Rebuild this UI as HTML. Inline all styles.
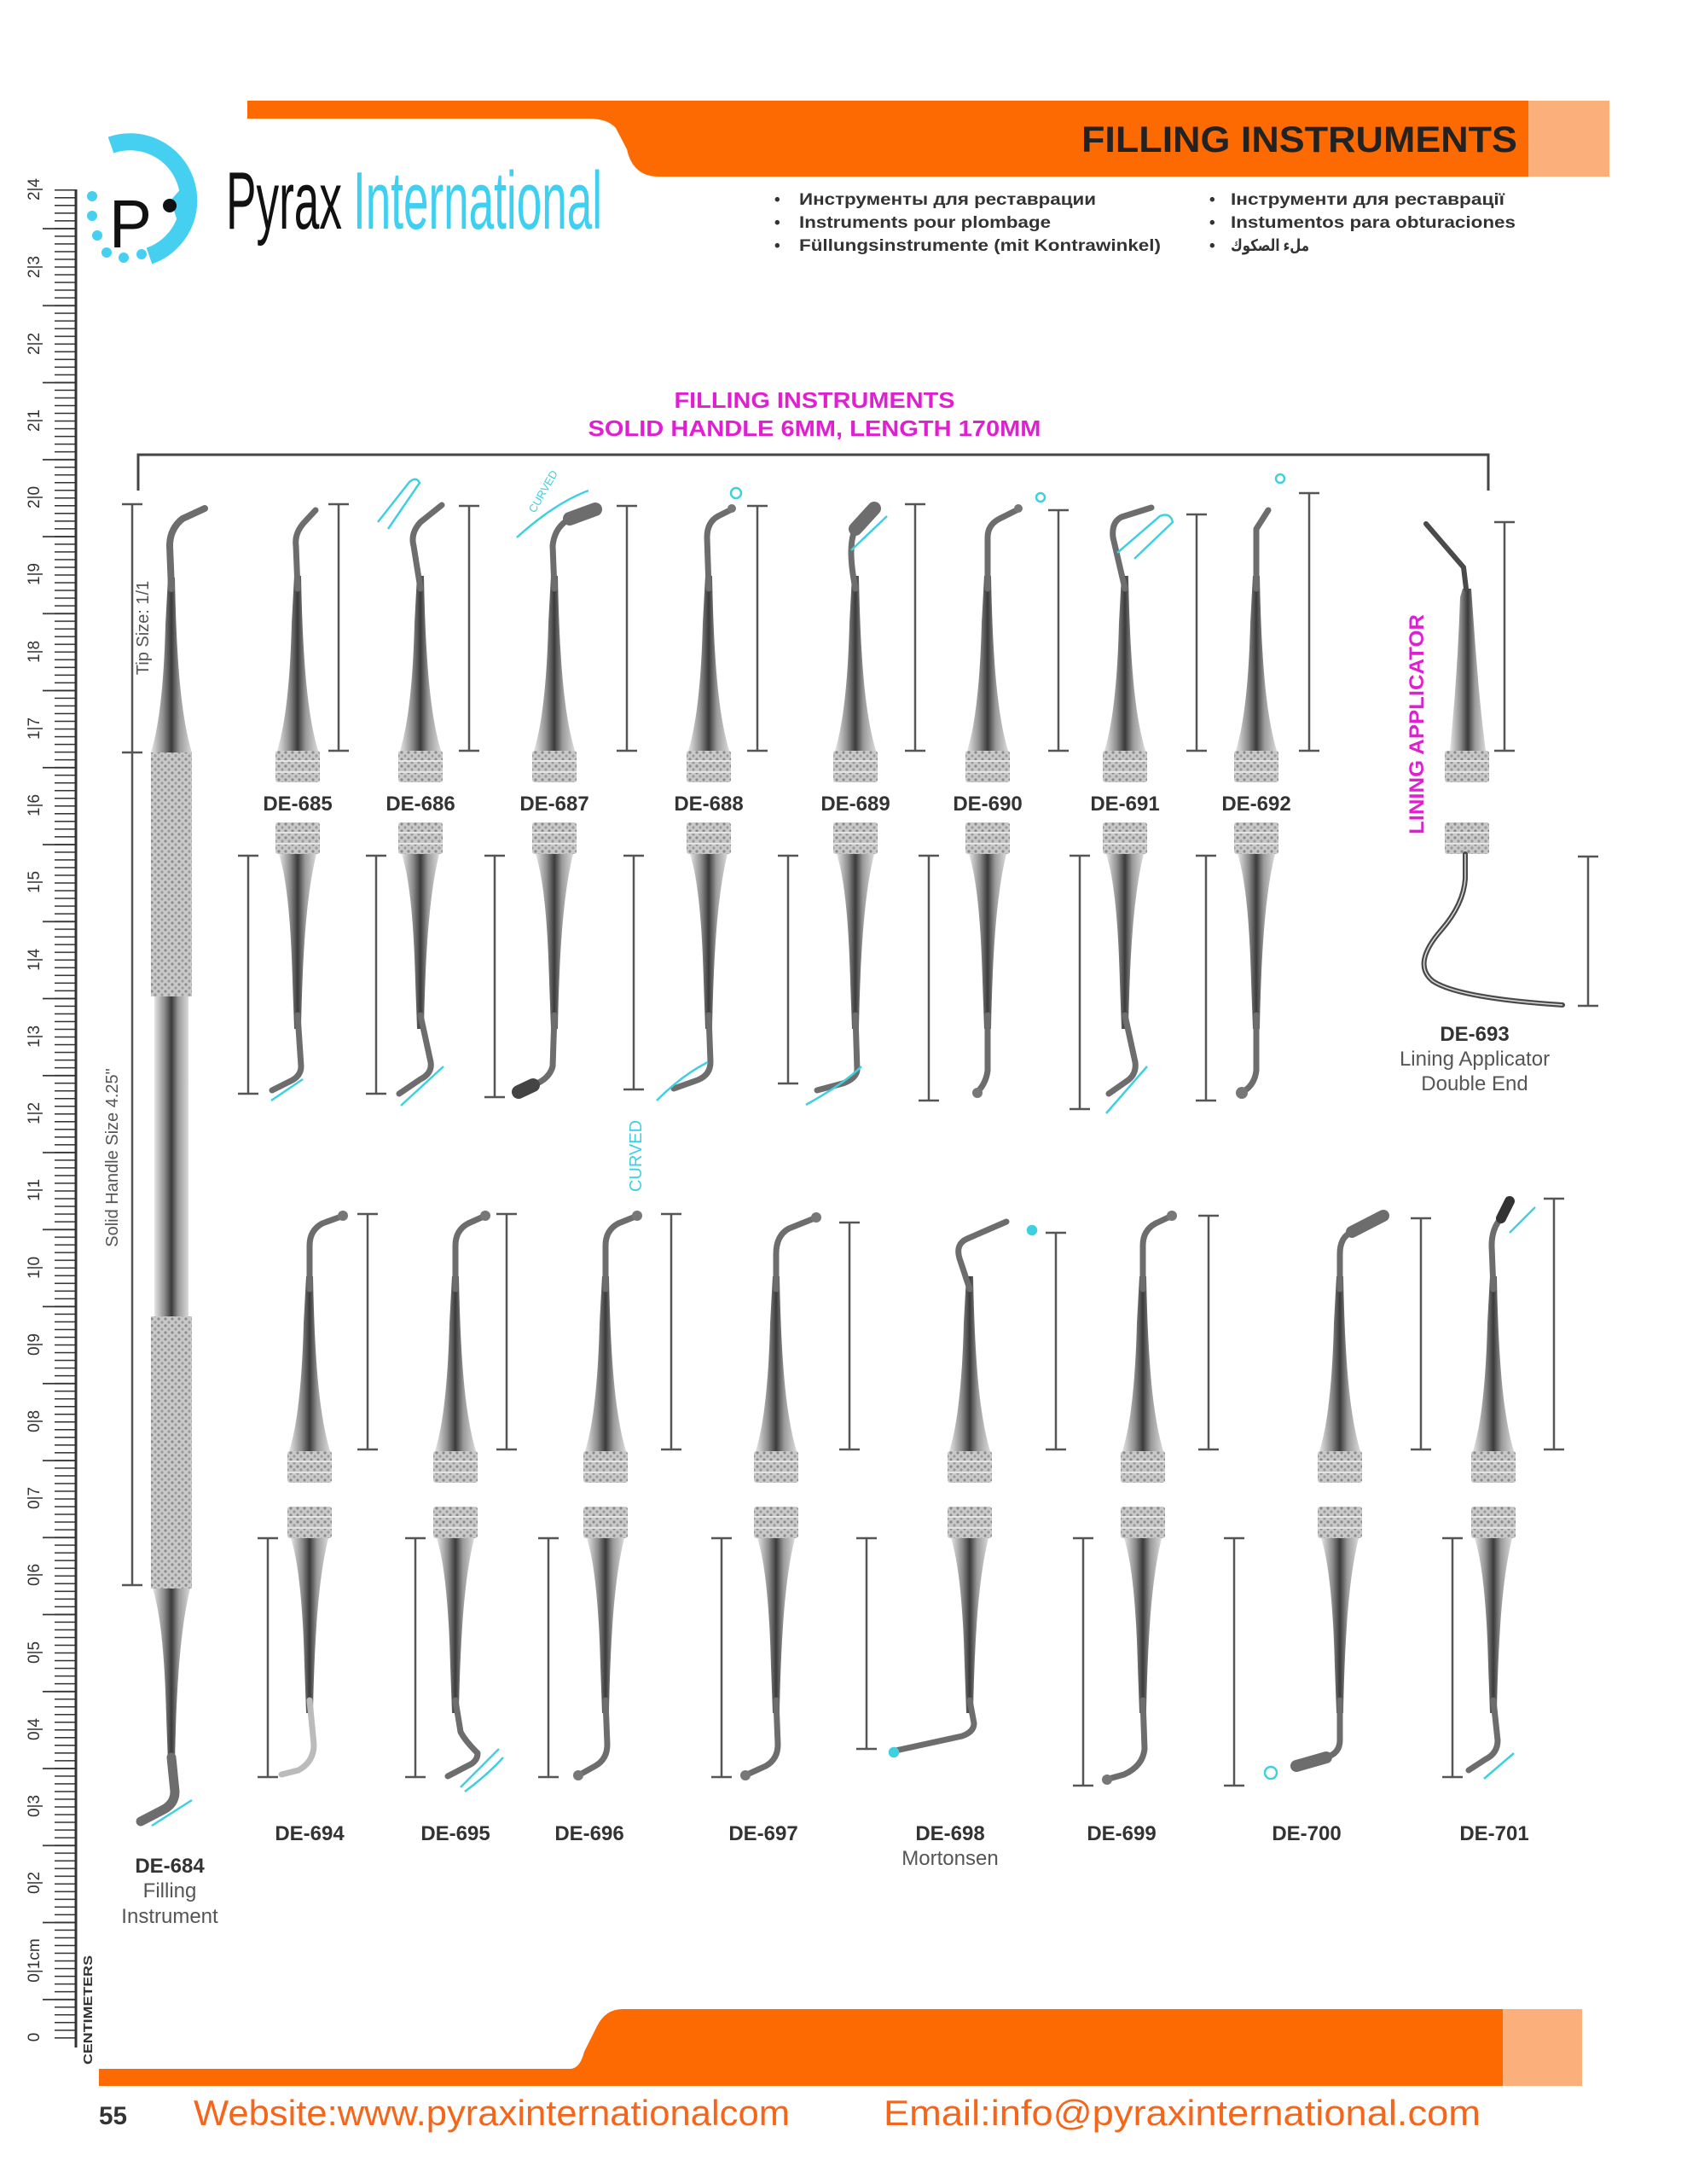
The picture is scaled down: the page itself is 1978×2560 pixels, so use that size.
<!DOCTYPE html>
<html><head><meta charset="utf-8"><style>
html,body{margin:0;padding:0;background:#fff}
svg{display:block}
text{font-family:"Liberation Sans","DejaVu Sans",sans-serif}
</style></head><body>
<svg width="1978" height="2560" viewBox="0 0 1978 2560" xmlns="http://www.w3.org/2000/svg">
<defs>
<linearGradient id="steel" x1="0" x2="1" y1="0" y2="0">
<stop offset="0" stop-color="#e6e6e6"/><stop offset="0.3" stop-color="#8c8c8c"/><stop offset="0.5" stop-color="#3a3a3a"/><stop offset="0.7" stop-color="#9a9a9a"/><stop offset="1" stop-color="#dadada"/>
</linearGradient>
<pattern id="knurl" width="8" height="8" patternUnits="userSpaceOnUse">
<rect width="8" height="8" fill="#c9c9c9"/><circle cx="2" cy="2" r="1.6" fill="#8a8a8a"/><circle cx="6" cy="6" r="1.6" fill="#9a9a9a"/>
</pattern>
<pattern id="mm" x="0" y="2388" width="40" height="9.025" patternUnits="userSpaceOnUse"><path d="M0,0.8H40" stroke="#333" stroke-width="1.6"/></pattern>
<pattern id="half" x="0" y="2342.9" width="50" height="90.25" patternUnits="userSpaceOnUse"><path d="M0,0.8H50" stroke="#333" stroke-width="2"/></pattern>
<g id="grip"><rect x="-26" y="0" width="52" height="37" rx="3" fill="url(#knurl)"/><path d="M-26,12H26M-26,25H26" stroke="#e4e4e4" stroke-width="2"/></g>
<path id="coneU" d="M-24,0 C-16,-25 -9,-70 -7,-150 L-4,-205 L4,-205 C6,-100 12,-40 24,0Z" fill="url(#steel)"/>
<path id="coneD" d="M-22,0 C-14,25 -8,70 -6,150 L-4,205 L4,205 C6,100 12,40 22,0Z" fill="url(#steel)"/>
</defs>

<!-- header bar -->
<path d="M290,118 H1887 V190 Q1887,207 1870,207 H772 Q742,207 735,175 L722,150 Q712,139 690,139 H290Z" fill="#fd6a02"/>
<rect x="1792" y="118" width="95" height="89" fill="#fbb07c"/>
<text x="1268" y="178" font-size="43" font-weight="bold" fill="#222" textLength="511" lengthAdjust="spacingAndGlyphs">FILLING INSTRUMENTS</text>

<!-- logo -->
<path d="M130,170 A66,66 0 1 1 175,300" fill="none" stroke="#45d0f2" stroke-width="20"/>
<path d="M200,235 L222,210 L215,280 Z" fill="#45d0f2"/>
<g fill="#45d0f2"><circle cx="108" cy="230" r="6"/><circle cx="108" cy="253" r="6"/><circle cx="114" cy="276" r="6"/><circle cx="125" cy="296" r="6"/><circle cx="145" cy="302" r="6"/><circle cx="166" cy="298" r="6"/></g>
<text x="128" y="290" font-size="80" fill="#111" textLength="50" lengthAdjust="spacingAndGlyphs">P</text>
<circle cx="199" cy="241" r="8" fill="#111"/>
<text x="265" y="268" font-size="96" fill="#111" textLength="136" lengthAdjust="spacingAndGlyphs">Pyrax</text>
<text x="414" y="268" font-size="96" fill="#3fcff0" textLength="292" lengthAdjust="spacingAndGlyphs">International</text>

<!-- bullets -->
<g font-size="19" font-weight="bold" fill="#333">
<text x="908" y="240">•</text><text x="937" y="240" textLength="348" lengthAdjust="spacingAndGlyphs">Инструменты для реставрации</text>
<text x="908" y="267">•</text><text x="937" y="267" textLength="295" lengthAdjust="spacingAndGlyphs">Instruments pour plombage</text>
<text x="908" y="294">•</text><text x="937" y="294" textLength="424" lengthAdjust="spacingAndGlyphs">Füllungsinstrumente (mit Kontrawinkel)</text>
<text x="1418" y="240">•</text><text x="1443" y="240" textLength="321" lengthAdjust="spacingAndGlyphs">Інструменти для реставрації</text>
<text x="1418" y="267">•</text><text x="1443" y="267" textLength="334" lengthAdjust="spacingAndGlyphs">Instumentos para obturaciones</text>
<text x="1418" y="294">•</text><text x="1443" y="294" font-family="DejaVu Sans,sans-serif" textLength="92" lengthAdjust="spacingAndGlyphs">ملء الصكوك</text>
</g>

<!-- ruler -->
<path d="M89,222 V2400" stroke="#333" stroke-width="3"/>
<rect x="64" y="222" width="25" height="2175" fill="url(#mm)"/>
<rect x="50" y="222" width="39" height="2175" fill="url(#half)"/>
<g font-size="19" fill="#333">
<text transform="translate(46,2388) rotate(-90)" text-anchor="middle">0</text>
<text transform="translate(46,2298) rotate(-90)" text-anchor="middle">0|1cm</text>
<text transform="translate(46,2207) rotate(-90)" text-anchor="middle">0|2</text>
<text transform="translate(46,2117) rotate(-90)" text-anchor="middle">0|3</text>
<text transform="translate(46,2027) rotate(-90)" text-anchor="middle">0|4</text>
<text transform="translate(46,1937) rotate(-90)" text-anchor="middle">0|5</text>
<text transform="translate(46,1846) rotate(-90)" text-anchor="middle">0|6</text>
<text transform="translate(46,1756) rotate(-90)" text-anchor="middle">0|7</text>
<text transform="translate(46,1666) rotate(-90)" text-anchor="middle">0|8</text>
<text transform="translate(46,1576) rotate(-90)" text-anchor="middle">0|9</text>
<text transform="translate(46,1486) rotate(-90)" text-anchor="middle">1|0</text>
<text transform="translate(46,1395) rotate(-90)" text-anchor="middle">1|1</text>
<text transform="translate(46,1305) rotate(-90)" text-anchor="middle">1|2</text>
<text transform="translate(46,1215) rotate(-90)" text-anchor="middle">1|3</text>
<text transform="translate(46,1125) rotate(-90)" text-anchor="middle">1|4</text>
<text transform="translate(46,1034) rotate(-90)" text-anchor="middle">1|5</text>
<text transform="translate(46,944) rotate(-90)" text-anchor="middle">1|6</text>
<text transform="translate(46,854) rotate(-90)" text-anchor="middle">1|7</text>
<text transform="translate(46,764) rotate(-90)" text-anchor="middle">1|8</text>
<text transform="translate(46,673) rotate(-90)" text-anchor="middle">1|9</text>
<text transform="translate(46,583) rotate(-90)" text-anchor="middle">2|0</text>
<text transform="translate(46,493) rotate(-90)" text-anchor="middle">2|1</text>
<text transform="translate(46,403) rotate(-90)" text-anchor="middle">2|2</text>
<text transform="translate(46,313) rotate(-90)" text-anchor="middle">2|3</text>
<text transform="translate(46,222) rotate(-90)" text-anchor="middle">2|4</text>
</g>
<text transform="translate(108,2420) rotate(-90)" font-size="15" font-weight="bold" fill="#333" textLength="128" lengthAdjust="spacingAndGlyphs">CENTIMETERS</text>

<!-- magenta title + bracket -->
<text x="955" y="478" font-size="26" font-weight="bold" fill="#e020d0" text-anchor="middle" textLength="329" lengthAdjust="spacingAndGlyphs">FILLING INSTRUMENTS</text>
<text x="955" y="511" font-size="26" font-weight="bold" fill="#e020d0" text-anchor="middle" textLength="531" lengthAdjust="spacingAndGlyphs">SOLID HANDLE 6MM, LENGTH 170MM</text>
<path d="M162,575 V533 H1745 V575" fill="none" stroke="#444" stroke-width="3"/>

<!-- dimension bars -->
<g stroke="#555" stroke-width="2.5" fill="none">
<path d="M155,591V1858M143,591H167M143,882H167M143,1858H167"/>
<!-- row1 upper -->
<path d="M397,591V880M385,591H409M385,880H409"/>
<path d="M550,593V880M538,593H562M538,880H562"/>
<path d="M735,593V880M723,593H747M723,880H747"/>
<path d="M888,593V880M876,593H900M876,880H900"/>
<path d="M1073,591V880M1061,591H1085M1061,880H1085"/>
<path d="M1241,598V880M1229,598H1253M1229,880H1253"/>
<path d="M1403,603V880M1391,603H1415M1391,880H1415"/>
<path d="M1535,578V880M1523,578H1547M1523,880H1547"/>
<path d="M1764,612V880M1752,612H1776M1752,880H1776"/>
<!-- row1 lower -->
<path d="M291,1003V1282M279,1003H303M279,1282H303"/>
<path d="M441,1003V1282M429,1003H453M429,1282H453"/>
<path d="M580,1003V1286M568,1003H592M568,1286H592"/>
<path d="M743,1003V1277M731,1003H755M731,1277H755"/>
<path d="M924,1003V1270M912,1003H936M912,1270H936"/>
<path d="M1089,1003V1290M1077,1003H1101M1077,1290H1101"/>
<path d="M1266,1003V1300M1254,1003H1278M1254,1300H1278"/>
<path d="M1414,1003V1290M1402,1003H1426M1402,1290H1426"/>
<path d="M1862,1004V1179M1850,1004H1874M1850,1179H1874"/>
<!-- row2 upper -->
<path d="M431,1423V1699M419,1423H443M419,1699H443"/>
<path d="M594,1423V1699M582,1423H606M582,1699H606"/>
<path d="M787,1423V1699M775,1423H799M775,1699H799"/>
<path d="M996,1433V1699M984,1433H1008M984,1699H1008"/>
<path d="M1238,1445V1699M1226,1445H1250M1226,1699H1250"/>
<path d="M1417,1425V1699M1405,1425H1429M1405,1699H1429"/>
<path d="M1666,1428V1699M1654,1428H1678M1654,1699H1678"/>
<path d="M1822,1405V1699M1810,1405H1834M1810,1699H1834"/>
<!-- row2 lower -->
<path d="M314,1803V2083M302,1803H326M302,2083H326"/>
<path d="M487,1803V2083M475,1803H499M475,2083H499"/>
<path d="M643,1803V2083M631,1803H655M631,2083H655"/>
<path d="M846,1803V2083M834,1803H858M834,2083H858"/>
<path d="M1016,1803V2050M1004,1803H1028M1004,2050H1028"/>
<path d="M1270,1803V2093M1258,1803H1282M1258,2093H1282"/>
<path d="M1447,1803V2093M1435,1803H1459M1435,2093H1459"/>
<path d="M1703,1803V2083M1691,1803H1715M1691,2083H1715"/>
</g>
<text transform="translate(174,736) rotate(-90)" font-size="20" fill="#555" text-anchor="middle">Tip Size: 1/1</text>
<text transform="translate(138,1357) rotate(-90)" font-size="20" fill="#555" text-anchor="middle">Solid Handle Size 4.25"</text>

<!-- DE-684 big -->
<use href="#coneU" x="201" y="882"/>
<rect x="177" y="882" width="48" height="286" fill="url(#knurl)"/>
<rect x="181" y="1168" width="40" height="375" fill="url(#steel)"/>
<rect x="177" y="1543" width="48" height="319" fill="url(#knurl)"/>
<use href="#coneD" x="201" y="1862"/>
<g fill="none" stroke="#6d6d6d" stroke-linecap="round">
<path d="M201,690 L199,640 Q199,620 214,608 L240,596" stroke-width="8"/>
<path d="M201,2060 L205,2100 Q205,2115 190,2122 L165,2135" stroke-width="11"/>
</g>
<path d="M178,2140 L225,2110" stroke="#3fd0e0" stroke-width="2.5"/>
<text x="199" y="2195" font-size="24" font-weight="bold" fill="#333" text-anchor="middle">DE-684</text>
<text x="199" y="2224" font-size="24" fill="#555" text-anchor="middle">Filling</text>
<text x="199" y="2254" font-size="24" fill="#555" text-anchor="middle">Instrument</text>

<!-- row1 instruments: grips & cones -->
<g>
<use href="#coneU" x="349" y="880"/><use href="#grip" x="349" y="880"/><use href="#grip" x="349" y="964"/><use href="#coneD" x="349" y="1001"/>
<use href="#coneU" x="493" y="880"/><use href="#grip" x="493" y="880"/><use href="#grip" x="493" y="964"/><use href="#coneD" x="493" y="1001"/>
<use href="#coneU" x="650" y="880"/><use href="#grip" x="650" y="880"/><use href="#grip" x="650" y="964"/><use href="#coneD" x="650" y="1001"/>
<use href="#coneU" x="831" y="880"/><use href="#grip" x="831" y="880"/><use href="#grip" x="831" y="964"/><use href="#coneD" x="831" y="1001"/>
<use href="#coneU" x="1003" y="880"/><use href="#grip" x="1003" y="880"/><use href="#grip" x="1003" y="964"/><use href="#coneD" x="1003" y="1001"/>
<use href="#coneU" x="1158" y="880"/><use href="#grip" x="1158" y="880"/><use href="#grip" x="1158" y="964"/><use href="#coneD" x="1158" y="1001"/>
<use href="#coneU" x="1319" y="880"/><use href="#grip" x="1319" y="880"/><use href="#grip" x="1319" y="964"/><use href="#coneD" x="1319" y="1001"/>
<use href="#coneU" x="1473" y="880"/><use href="#grip" x="1473" y="880"/><use href="#grip" x="1473" y="964"/><use href="#coneD" x="1473" y="1001"/>
<use href="#grip" x="1720" y="880"/><use href="#grip" x="1720" y="964"/>
</g>
<g fill="none" stroke="#6d6d6d" stroke-width="7" stroke-linecap="round" stroke-linejoin="round">
<!-- row1 upper tips -->
<path d="M349,690 L347,640 Q345,625 357,612 L370,598"/>
<path d="M493,690 L485,640 Q481,625 493,612 L518,592"/>
<path d="M650,690 L648,640 Q650,618 668,608"/><path d="M668,608 L698,597" stroke-width="16"/>
<path d="M831,690 L829,630 Q829,612 842,605 L856,598"/>
<path d="M1003,690 Q993,640 1003,620" /><path d="M1003,620 L1025,596" stroke-width="16"/>
<path d="M1158,690 L1158,630 Q1158,615 1172,608 L1192,598" />
<path d="M1319,690 L1305,630 Q1303,612 1315,606 L1350,595"/>
<path d="M1473,690 L1473,620 L1487,598"/>
<!-- row1 lower tips -->
<path d="M349,1190 L353,1250 Q353,1262 339,1268 L319,1278"/>
<path d="M493,1190 L505,1245 Q507,1258 493,1265 L468,1282"/>
<path d="M650,1190 L648,1250 Q644,1265 625,1272"/><path d="M625,1272 L608,1280" stroke-width="16" stroke="#444"/>
<path d="M831,1190 L833,1245 Q833,1260 818,1266 L790,1276"/>
<path d="M1003,1190 L1005,1255 Q1003,1265 988,1270 L958,1278"/>
<path d="M1158,1190 L1158,1255 Q1156,1270 1146,1280"/>
<path d="M1319,1190 L1331,1245 Q1333,1260 1320,1268 L1300,1282"/>
<path d="M1473,1190 L1473,1255 Q1471,1272 1457,1280"/>
</g>
<g fill="#777"><circle cx="1146" cy="1281" r="6"/><circle cx="1456" cy="1281" r="7"/><circle cx="858" cy="596" r="5"/><circle cx="1194" cy="596" r="5"/></g>
<!-- cyan marks row1 -->
<g fill="none" stroke="#3fd0e0" stroke-width="2.5">
<path d="M443,612 L480,565 Q488,558 492,566 L455,620"/>
<path d="M606,630 Q650,590 690,575"/>
<path d="M998,645 L1040,605"/>
<path d="M1310,648 L1360,605 Q1372,600 1375,612 L1330,655"/>
<path d="M318,1290 L355,1265"/>
<path d="M470,1296 L520,1250"/>
<path d="M770,1290 Q800,1260 830,1245"/>
<path d="M945,1295 Q990,1270 1010,1250"/>
<path d="M1297,1305 L1345,1250"/>
<circle cx="863" cy="578" r="6"/><circle cx="1220" cy="583" r="5"/><circle cx="1501" cy="561" r="5"/>
</g>
<text transform="translate(627,602) rotate(-60)" font-size="13" fill="#3fd0e0">CURVED</text>
<!-- row1 labels -->
<g font-size="24" font-weight="bold" fill="#333" text-anchor="middle">
<text x="349" y="950">DE-685</text><text x="493" y="950">DE-686</text><text x="650" y="950">DE-687</text><text x="831" y="950">DE-688</text>
<text x="1003" y="950">DE-689</text><text x="1158" y="950">DE-690</text><text x="1319" y="950">DE-691</text><text x="1473" y="950">DE-692</text>
</g>

<!-- DE-693 -->
<path d="M1700,880 C1706,820 1710,760 1712,700 L1715,690 L1725,690 C1730,760 1734,820 1742,880Z" fill="url(#steel)"/>
<g fill="none" stroke="#4a4a4a" stroke-width="6" stroke-linecap="round">
<path d="M1719,690 L1716,665 L1672,614"/>
<path d="M1718,1001 L1718,1030 Q1716,1060 1690,1090 Q1655,1130 1680,1150 Q1710,1170 1832,1178"/>
</g>
<path d="M1718,1001 L1718,1030 Q1716,1060 1690,1090 Q1655,1130 1680,1150 Q1710,1170 1832,1178" fill="none" stroke="#ddd" stroke-width="1.5"/>
<text transform="translate(1669,849) rotate(-90)" font-size="24" font-weight="bold" fill="#e020d0" text-anchor="middle" textLength="258" lengthAdjust="spacingAndGlyphs">LINING APPLICATOR</text>
<text x="1729" y="1220" font-size="24" font-weight="bold" fill="#333" text-anchor="middle">DE-693</text>
<text x="1729" y="1249" font-size="24" fill="#555" text-anchor="middle">Lining Applicator</text>
<text x="1729" y="1278" font-size="24" fill="#555" text-anchor="middle">Double End</text>

<!-- row2 instruments -->
<g>
<use href="#coneU" x="363" y="1701"/><use href="#grip" x="363" y="1701"/><use href="#grip" x="363" y="1766"/><use href="#coneD" x="363" y="1803"/>
<use href="#coneU" x="534" y="1701"/><use href="#grip" x="534" y="1701"/><use href="#grip" x="534" y="1766"/><use href="#coneD" x="534" y="1803"/>
<use href="#coneU" x="710" y="1701"/><use href="#grip" x="710" y="1701"/><use href="#grip" x="710" y="1766"/><use href="#coneD" x="710" y="1803"/>
<use href="#coneU" x="910" y="1701"/><use href="#grip" x="910" y="1701"/><use href="#grip" x="910" y="1766"/><use href="#coneD" x="910" y="1803"/>
<use href="#coneU" x="1137" y="1701"/><use href="#grip" x="1137" y="1701"/><use href="#grip" x="1137" y="1766"/><use href="#coneD" x="1137" y="1803"/>
<use href="#coneU" x="1340" y="1701"/><use href="#grip" x="1340" y="1701"/><use href="#grip" x="1340" y="1766"/><use href="#coneD" x="1340" y="1803"/>
<use href="#coneU" x="1571" y="1701"/><use href="#grip" x="1571" y="1701"/><use href="#grip" x="1571" y="1766"/><use href="#coneD" x="1571" y="1803"/>
<use href="#coneU" x="1751" y="1701"/><use href="#grip" x="1751" y="1701"/><use href="#grip" x="1751" y="1766"/><use href="#coneD" x="1751" y="1803"/>
</g>
<g fill="none" stroke="#6d6d6d" stroke-width="7" stroke-linecap="round" stroke-linejoin="round">
<path d="M363,1511 L363,1460 Q363,1442 378,1434 L400,1426"/>
<path d="M534,1511 L534,1460 Q534,1442 549,1434 L567,1426"/>
<path d="M710,1511 L710,1460 Q710,1442 725,1434 L745,1426"/>
<path d="M910,1511 L910,1470 Q910,1448 925,1440 L955,1428"/>
<path d="M1137,1511 L1125,1475 Q1120,1458 1134,1452 L1180,1432"/>
<path d="M1340,1511 L1340,1460 Q1340,1442 1355,1434 L1372,1426"/>
<path d="M1571,1511 L1571,1470 Q1571,1450 1585,1444"/><path d="M1585,1444 L1622,1425" stroke-width="14"/>
<path d="M1751,1511 L1749,1460 Q1749,1440 1760,1428"/><path d="M1760,1428 L1770,1408" stroke-width="12" stroke="#333"/>
<path d="M363,1993 L368,2045 Q368,2065 350,2075 L330,2080" stroke="#bbb"/>
<path d="M534,1993 L540,2030 Q545,2040 560,2055 Q560,2065 548,2070 L525,2082"/>
<path d="M710,1993 L712,2045 Q712,2062 698,2070 L680,2080"/>
<path d="M910,1993 L912,2045 Q912,2062 898,2070 L876,2080"/>
<path d="M1137,1993 L1142,2020 Q1142,2030 1128,2035 L1050,2052"/>
<path d="M1340,1993 L1342,2050 Q1340,2070 1318,2080 L1300,2085"/>
<path d="M1571,1993 L1571,2040 Q1571,2055 1555,2060"/><path d="M1555,2060 L1520,2070" stroke-width="14"/>
<path d="M1751,1993 L1756,2040 Q1756,2055 1742,2062 L1722,2075"/>
</g>
<g fill="#777"><circle cx="402" cy="1425" r="6"/><circle cx="569" cy="1425" r="6"/><circle cx="747" cy="1425" r="6"/><circle cx="957" cy="1427" r="6"/><circle cx="1374" cy="1425" r="6"/>
<circle cx="678" cy="2081" r="6"/><circle cx="874" cy="2081" r="6"/><circle cx="1298" cy="2086" r="6"/></g>
<g fill="none" stroke="#3fd0e0" stroke-width="2.5">
<path d="M540,2095 Q565,2070 585,2050 M545,2100 Q572,2080 590,2060"/>
<path d="M1740,2085 L1775,2055"/>
<path d="M1770,1445 L1800,1415"/>
<circle cx="1210" cy="1442" r="5" fill="#3fd0e0"/><circle cx="1048" cy="2054" r="5" fill="#3fd0e0"/><circle cx="1490" cy="2078" r="7"/>
</g>
<text transform="translate(752,1355) rotate(-90)" font-size="20" fill="#3fd0e0" text-anchor="middle">CURVED</text>
<g font-size="24" font-weight="bold" fill="#333" text-anchor="middle">
<text x="363" y="2157">DE-694</text><text x="534" y="2157">DE-695</text><text x="691" y="2157">DE-696</text><text x="895" y="2157">DE-697</text>
<text x="1114" y="2157">DE-698</text><text x="1315" y="2157">DE-699</text><text x="1532" y="2157">DE-700</text><text x="1752" y="2157">DE-701</text>
</g>
<text x="1114" y="2186" font-size="24" fill="#555" text-anchor="middle">Mortonsen</text>

<!-- footer -->
<path d="M116,2425 H668 Q680,2425 685,2405 L700,2375 Q710,2355 730,2355 H1845 Q1855,2355 1855,2370 V2445 H116Z" fill="#fd6a02"/>
<rect x="1762" y="2355" width="93" height="90" fill="#fbb07c"/>
<text x="116" y="2490" font-size="30" font-weight="bold" fill="#333" textLength="33" lengthAdjust="spacingAndGlyphs">55</text>
<text x="227" y="2491" font-size="42" fill="#f5651a" textLength="699" lengthAdjust="spacingAndGlyphs">Website:www.pyraxinternationalcom</text>
<text x="1036" y="2491" font-size="42" fill="#f5651a" textLength="700" lengthAdjust="spacingAndGlyphs">Email:info@pyraxinternational.com</text>
</svg>
</body></html>
